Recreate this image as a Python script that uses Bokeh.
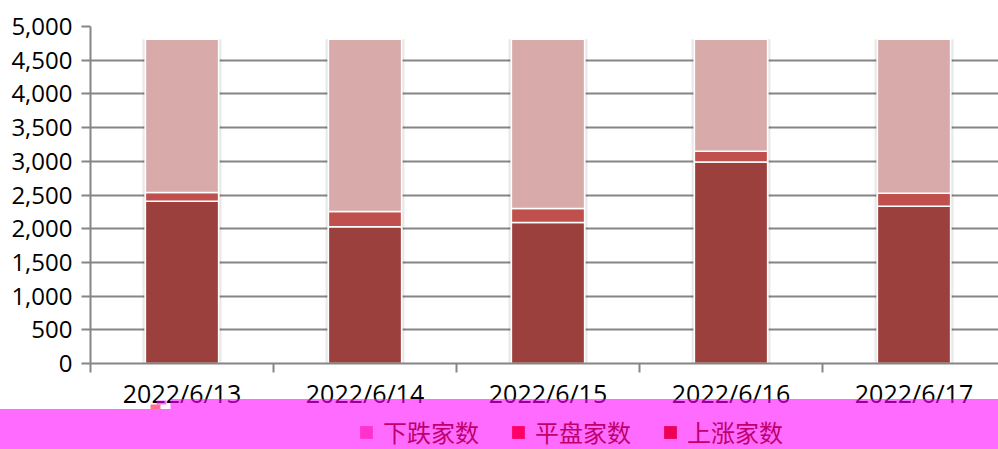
from bokeh.embed import file_html
from bokeh.resources import INLINE
from bokeh.plotting import figure
from bokeh.models import (ColumnDataSource, Range1d, FixedTicker, BoxAnnotation, Legend, LegendItem,
                          NumeralTickFormatter)

dates = ["2022/6/13", "2022/6/14", "2022/6/15", "2022/6/16", "2022/6/17"]
up = [2408, 2030, 2092, 2988, 2334]
flat = [129, 225, 208, 162, 193]
down = [2273, 2555, 2510, 1660, 2283]
series_names = ["下跌家数", "平盘家数", "上涨家数"]
y_ticks = [0, 500, 1000, 1500, 2000, 2500, 3000, 3500, 4000, 4500, 5000]

FONT = "Open Sans"
CJK = "Noto Sans CJK SC"
AXIS = "#868686"

xs = list(range(len(dates)))
src = ColumnDataSource(dict(x=xs, up=up, flat=flat, down=down,
                            total=[a + b + c for a, b, c in zip(up, flat, down)]))

p = figure(width=998, height=449, output_backend="svg", toolbar_location=None,
           x_range=Range1d(-0.5, -0.5 + 908 / 183), y_range=Range1d(0, 5000),
           min_border_left=90, min_border_right=0, min_border_top=26, min_border_bottom=86,
           outline_line_color=None, background_fill_color="white", border_fill_color="white")
p.styles = {"position": "absolute", "left": "0px", "top": "0px"}

p.xgrid.visible = False
p.ygrid.ticker = FixedTicker(ticks=y_ticks)
p.ygrid.grid_line_color = AXIS
p.ygrid.grid_line_width = 2

p.yaxis.ticker = FixedTicker(ticks=y_ticks)
p.yaxis.formatter = NumeralTickFormatter(format="0,0")
p.yaxis.major_tick_in = 0
p.yaxis.major_tick_out = 9
p.yaxis.major_label_standoff = 9

p.xaxis.ticker = FixedTicker(ticks=xs, minor_ticks=[i - 0.5 for i in xs])
p.xaxis.major_label_overrides = {i: d for i, d in enumerate(dates)}
p.xaxis.minor_tick_in = 0
p.xaxis.minor_tick_out = 9
p.xaxis.major_label_standoff = 3

for ax in (p.xaxis[0], p.yaxis[0]):
    ax.axis_line_color = AXIS
    ax.axis_line_width = 2
    ax.major_tick_line_color = AXIS if ax is p.yaxis[0] else None
    ax.major_tick_line_width = 2
    ax.minor_tick_line_color = AXIS if ax is p.xaxis[0] else None
    ax.minor_tick_line_width = 2
    ax.major_label_text_font = FONT
    ax.major_label_text_color = "black"
p.yaxis[0].major_label_text_font_size = "24px"
p.xaxis[0].major_label_text_font_size = "25px"

# soft shadow behind each column
p.vbar(x="x", top="total", bottom=0, width=0.44, source=src, fill_color="#000000", fill_alpha=0.04, line_color=None)
p.vbar(x="x", top="total", bottom=0, width=0.425, source=src, fill_color="#000000", fill_alpha=0.06, line_color=None)
p.vbar(x="x", top="total", bottom=0, width=0.41, source=src, fill_color="#e8e8e8", line_color=None)

p.vbar_stack(["up", "flat", "down"], x="x", width=0.4, source=src,
             color=["#9B403D", "#C0504D", "#D9AAAA"], line_color="white", line_width=1.5)

# transparent second figure laid over the bottom strip: the magenta band and the legend
q = figure(width=1000, height=51, output_backend="svg", toolbar_location=None,
           x_range=Range1d(-2, 998), y_range=Range1d(449, 398),
           x_axis_location=None, y_axis_location=None,
           min_border_left=0, min_border_right=0, min_border_top=0, min_border_bottom=0,
           outline_line_color=None, background_fill_color=None, border_fill_color=None)
q.styles = {"position": "absolute", "left": "-2px", "top": "398px"}
q.grid.visible = False

band = dict(fill_color="#FF00FF", fill_alpha=0.58, line_color=None)
q.add_layout(BoxAnnotation(left=-5, right=1005, top=408.5, bottom=455, **band))
q.add_layout(BoxAnnotation(left=170, right=1005, top=398.5, bottom=408.5, **band))
q.add_layout(BoxAnnotation(left=156, right=166, top=400, bottom=404, **band))
q.add_layout(BoxAnnotation(left=150, right=160, top=404, bottom=408.5, fill_color="#FF3366", fill_alpha=0.7,
                           line_color=None))

legend_colors = ["#FF33CC", "#FF0066", "#EE0055"]
items = []
for name, col in zip(series_names, legend_colors):
    # one point outside the visible range, so that the legend has a glyph to draw
    r = q.vbar(x=[-50], top=[-50], bottom=[-60], width=1, fill_color=col, line_color=None)
    items.append(LegendItem(label=name, renderers=[r]))
leg = Legend(items=items, orientation="horizontal", location=(360, 0), background_fill_alpha=0,
             border_line_color=None, padding=0, margin=0, spacing=31, label_standoff=9,
             glyph_width=16, glyph_height=16, label_text_font=CJK, label_text_font_size="24px",
             label_text_color="#C0006B")
q.add_layout(leg)

open("out.html", "w").write(file_html([p, q], INLINE))
